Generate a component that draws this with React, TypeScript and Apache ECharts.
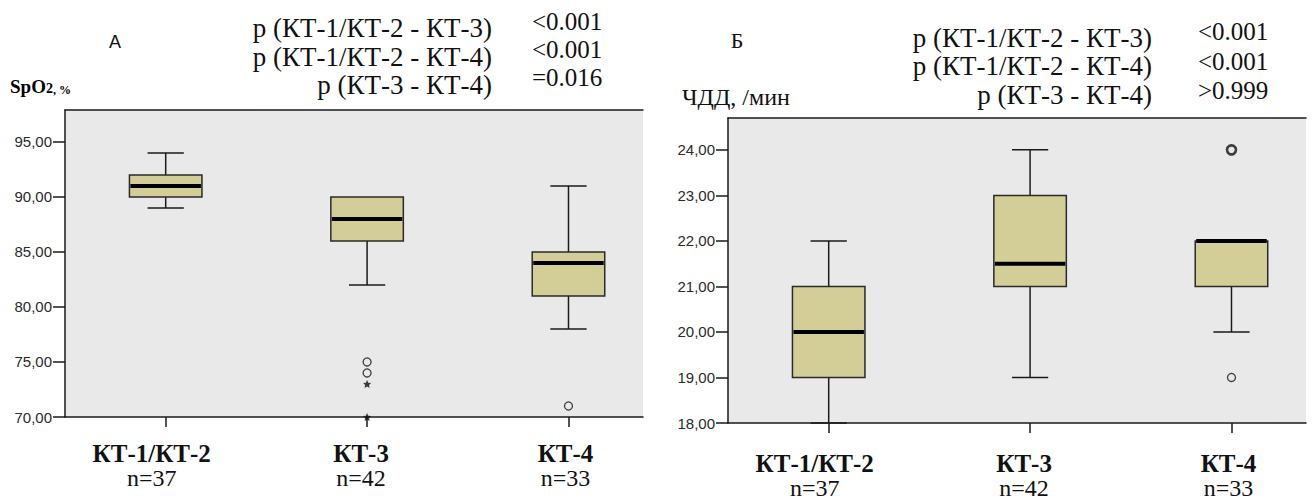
import React, { useEffect, useRef } from "react";
import * as echarts from "echarts";

// Groups and their sizes
const categories = ["КТ-1/КТ-2", "КТ-3", "КТ-4"];
const groupSizes = [37, 42, 33];

// SpO2, %: [min, Q1, median, Q3, max]
const spo2Boxes = [
  [89, 90, 91, 92, 94],
  [82, 86, 88, 90, 90],
  [78, 81, 84, 85, 91],
];
// [group index, value]
const spo2Outliers = [
  [1, 75],
  [1, 74],
  [2, 71],
];
const spo2Extremes = [
  [1, 73],
  [1, 70],
];
const spo2Ticks = [70, 75, 80, 85, 90, 95];

// Respiratory rate, /min: [min, Q1, median, Q3, max]
const rrBoxes = [
  [18, 19, 20, 21, 22],
  [19, 21, 21.5, 23, 24],
  [20, 21, 22, 22, 22],
];
const rrOutliers = [[2, 19]];
const rrOutliersRepeated = [[2, 24]];
const rrTicks = [18, 19, 20, 21, 22, 23, 24];

// Pairwise comparisons
const pairLabels = ["p (КТ-1/КТ-2 - КТ-3)", "p (КТ-1/КТ-2 - КТ-4)", "p (КТ-3 - КТ-4)"];
const spo2PValues = ["<0.001", "<0.001", "=0.016"];
const rrPValues = ["<0.001", "<0.001", ">0.999"];

const SERIF = "Liberation Serif";
const SANS = "Liberation Sans";
const BOX_FILL = "#d3ce98";
const INK = "#1a1a1a";
const PLOT_BG = "#e9e9e9";
const BOX_W = 0.36;
const CAP_W = 0.18;
const LABEL_NUDGE = [28, 12, 6];

const STAR =
  "path://M0,-10L2.9,-4L9.5,-3.1L4.8,1.5L5.9,8.1L0,5L-5.9,8.1L-4.8,1.5L-9.5,-3.1L-2.9,-4Z";

function renderBox(params: any, api: any) {
  const x = api.value(0);
  const lo = api.value(1);
  const q1 = api.value(2);
  const med = api.value(3);
  const q3 = api.value(4);
  const hi = api.value(5);
  const [cx, yLo] = api.coord([x, lo]);
  const yQ1 = api.coord([x, q1])[1];
  const yMed = api.coord([x, med])[1];
  const yQ3 = api.coord([x, q3])[1];
  const yHi = api.coord([x, hi])[1];
  const half = api.size([BOX_W, 0])[0] / 2;
  const cap = api.size([CAP_W, 0])[0] / 2;
  const line = { stroke: INK, lineWidth: 1.5 };
  const children: any[] = [];
  if (yLo !== yQ1) {
    children.push({ type: "line", shape: { x1: cx, y1: yQ1, x2: cx, y2: yLo }, style: line });
    children.push({ type: "line", shape: { x1: cx - cap, y1: yLo, x2: cx + cap, y2: yLo }, style: line });
  }
  if (yHi !== yQ3) {
    children.push({ type: "line", shape: { x1: cx, y1: yQ3, x2: cx, y2: yHi }, style: line });
    children.push({ type: "line", shape: { x1: cx - cap, y1: yHi, x2: cx + cap, y2: yHi }, style: line });
  }
  children.push({
    type: "rect",
    shape: { x: cx - half, y: yQ3, width: half * 2, height: yQ1 - yQ3 },
    style: { fill: BOX_FILL, stroke: "#2a2a2a", lineWidth: 1.5 },
  });
  children.push({
    type: "line",
    shape: { x1: cx - half + 1, y1: yMed, x2: cx + half - 1, y2: yMed },
    style: { stroke: "#000", lineWidth: 4 },
  });
  return { type: "group", children };
}

function categoryRich() {
  const rich: any = {};
  categories.forEach((_, i) => {
    rich["b" + i] = {
      fontFamily: SERIF,
      fontWeight: "bold",
      fontSize: 25,
      lineHeight: 25,
      color: "#111",
      padding: [0, LABEL_NUDGE[i], 0, 0],
    };
    rich["n" + i] = {
      fontFamily: SERIF,
      fontSize: 24,
      lineHeight: 23,
      color: "#111",
      padding: [0, LABEL_NUDGE[i], 0, 0],
    };
  });
  return rich;
}

function categoryFormatter(v: number) {
  const i = Math.round(v);
  return `{b${i}|${categories[i]}}\n{n${i}|n=${groupSizes[i]}}`;
}

function textEl(x: number, y: number, text: string, size: number, align: string, family = SERIF) {
  return {
    type: "text",
    x,
    y,
    style: {
      text,
      fontFamily: family,
      fontSize: size,
      fill: "#111",
      align,
      verticalAlign: "middle",
    },
  };
}

function pairBlock(rightX: number, valueX: number, pY: number[], vY: number[], values: string[]) {
  const els: any[] = [];
  pairLabels.forEach((t, i) => {
    els.push(textEl(rightX, pY[i], t, 27, "right"));
    els.push(textEl(valueX, vY[i], values[i], 25, "left"));
  });
  return els;
}

export default function App() {
  const ref = useRef<HTMLDivElement>(null);

  useEffect(() => {
    if (!ref.current) return;
    const chart = echarts.init(ref.current, null, { renderer: "svg" });

    const xAxisBase = (gridIndex: number, margin: number) => ({
      type: "value",
      gridIndex,
      min: -0.5,
      max: 2.37,
      splitLine: { show: false },
      axisLine: { show: true, onZero: false, lineStyle: { color: INK, width: 1.5 } },
      axisTick: { show: true, customValues: [0, 1, 2], length: 10, lineStyle: { color: INK, width: 1.5 } },
      axisLabel: {
        show: true,
        customValues: [0, 1, 2],
        margin,
        formatter: categoryFormatter,
        rich: categoryRich(),
      },
    });
    const xAxisTop = (gridIndex: number) => ({
      type: "value",
      gridIndex,
      position: "top",
      min: -0.5,
      max: 2.37,
      splitLine: { show: false },
      axisLine: { show: true, onZero: false, lineStyle: { color: INK, width: 1.5 } },
      axisTick: { show: false },
      axisLabel: { show: false },
    });
    const yAxisBase = (gridIndex: number, min: number, max: number, ticks: number[]) => ({
      type: "value",
      gridIndex,
      min,
      max,
      splitLine: { show: false },
      axisLine: { show: true, onZero: false, lineStyle: { color: INK, width: 1.5 } },
      axisTick: { show: true, customValues: ticks, length: 12, lineStyle: { color: INK, width: 1.5 } },
      axisLabel: {
        show: true,
        customValues: ticks,
        margin: 13,
        fontFamily: SANS,
        fontSize: 15,
        color: "#2a2a2a",
        formatter: (v: number) => v.toFixed(2).replace(".", ","),
      },
    });

    const toBoxData = (boxes: number[][]) => boxes.map((b, i) => [i, ...b]);
    const circle = (borderWidth: number, size: number) => ({
      symbol: "circle",
      symbolSize: size,
      itemStyle: { color: "rgba(0,0,0,0)", borderColor: "#111", borderWidth },
    });

    chart.setOption({
      animation: false,
      backgroundColor: "#ffffff",
      grid: [
        { left: 65, top: 110, width: 578, height: 307, show: true, backgroundColor: PLOT_BG, borderWidth: 0 },
        { left: 728, top: 118, width: 578, height: 305, show: true, backgroundColor: PLOT_BG, borderWidth: 0 },
      ],
      xAxis: [xAxisBase(0, 24), xAxisTop(0), xAxisBase(1, 28), xAxisTop(1)],
      yAxis: [yAxisBase(0, 70, 97.9, spo2Ticks), yAxisBase(1, 18, 24.7, rrTicks)],
      series: [
        {
          type: "custom",
          xAxisIndex: 0,
          yAxisIndex: 0,
          renderItem: renderBox,
          encode: { x: 0, y: [1, 2, 3, 4, 5] },
          data: toBoxData(spo2Boxes),
          z: 3,
        },
        {
          type: "scatter",
          xAxisIndex: 0,
          yAxisIndex: 0,
          ...circle(1.3, 8),
          data: spo2Outliers,
          z: 4,
        },
        {
          type: "scatter",
          xAxisIndex: 0,
          yAxisIndex: 0,
          symbol: STAR,
          symbolSize: 8,
          clip: false,
          itemStyle: { color: "#111" },
          data: spo2Extremes,
          z: 4,
        },
        {
          type: "custom",
          xAxisIndex: 2,
          yAxisIndex: 1,
          renderItem: renderBox,
          encode: { x: 0, y: [1, 2, 3, 4, 5] },
          data: toBoxData(rrBoxes),
          z: 3,
        },
        {
          type: "scatter",
          xAxisIndex: 2,
          yAxisIndex: 1,
          ...circle(1.3, 8),
          data: rrOutliers,
          z: 4,
        },
        {
          type: "scatter",
          xAxisIndex: 2,
          yAxisIndex: 1,
          ...circle(2.6, 9),
          data: rrOutliersRepeated,
          z: 4,
        },
      ],
      graphic: [
        textEl(115, 42, "А", 18, "center", SANS),
        textEl(737, 40, "Б", 22, "center"),
        {
          type: "text",
          x: 10,
          y: 86,
          style: {
            text: "{a|SpO}{s|2}{c|, %}",
            verticalAlign: "middle",
            align: "left",
            rich: {
              a: { fontFamily: SERIF, fontWeight: "bold", fontSize: 19, color: "#111", verticalAlign: "bottom" },
              s: { fontFamily: SERIF, fontWeight: "bold", fontSize: 14, color: "#111", verticalAlign: "bottom" },
              c: { fontFamily: SERIF, fontWeight: "bold", fontSize: 12, color: "#111", verticalAlign: "bottom" },
            },
          },
        },
        textEl(682, 97, "ЧДД, /мин", 24, "left"),
        ...pairBlock(492, 532, [28, 56.5, 85], [21, 49, 77], spo2PValues),
        ...pairBlock(1152, 1198, [37.5, 66, 94.5], [31.5, 61, 90.5], rrPValues),
      ],
    });

    return () => chart.dispose();
  }, []);

  return (
    <div
      ref={ref}
      style={{ position: "absolute", left: 0, top: 0, width: 1313, height: 500, background: "#fff" }}
    />
  );
}
